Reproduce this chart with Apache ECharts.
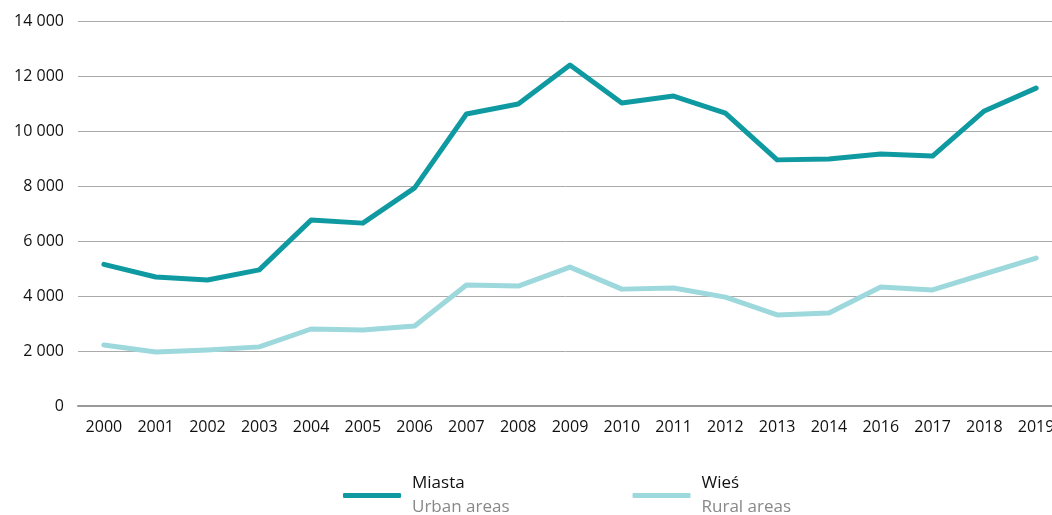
<!DOCTYPE html>
<html>
<head>
<meta charset="utf-8">
<script src="https://cdn.jsdelivr.net/npm/echarts@6/dist/echarts.min.js"></script>
<style>
  html, body { margin: 0; padding: 0; background: #fff; }
  #chart { width: 1052px; height: 515px; }
</style>
</head>
<body>
<div id="chart"></div>
<script>
const years = ['2000', '2001', '2002', '2003', '2004', '2005', '2006', '2007', '2008', '2009',
  '2010', '2011', '2012', '2013', '2014', '2016', '2017', '2018', '2019'];
const urban = [5150, 4690, 4580, 4950, 6760, 6650, 7930, 10620, 10980, 12400,
  11020, 11270, 10650, 8950, 8980, 9160, 9090, 10730, 11560];
const rural = [2220, 1960, 2040, 2150, 2800, 2760, 2910, 4400, 4360, 5050,
  4250, 4290, 3960, 3310, 3380, 4330, 4220, 4800, 5380];
const yTicks = [0, 2000, 4000, 6000, 8000, 10000, 12000, 14000];

const urbanColor = '#0f9aa2';
const ruralColor = '#9dd8dc';
const font = '"Open Sans", "Noto Sans", sans-serif';

const chart = echarts.init(document.getElementById('chart'));

const fmt = v => String(v).replace(/\B(?=(\d{3})+(?!\d))/g, ' ');

chart.setOption({
  animation: false,
  grid: { left: 78, right: -10, top: 21, bottom: 109, outerBoundsMode: 'none', containLabel: false },
  xAxis: {
    type: 'category',
    data: years,
    boundaryGap: true,
    axisLine: { show: true, lineStyle: { color: '#999', width: 2 } },
    axisTick: { show: false },
    axisLabel: { color: '#111', fontSize: 16, fontFamily: font, margin: 13 },
  },
  yAxis: {
    type: 'value',
    min: yTicks[0],
    max: yTicks[yTicks.length - 1],
    interval: 2000,
    axisLine: { show: false },
    axisTick: { show: false },
    splitLine: { lineStyle: { color: '#aaa', width: 1 } },
    axisLabel: { color: '#111', fontSize: 16, fontFamily: font, margin: 14, formatter: fmt },
  },
  legend: {
    left: 338,
    top: 470,
    itemWidth: 58,
    itemHeight: 5,
    itemGap: 123,
    icon: 'roundRect',
    data: ['Miasta', 'Wieś'],
    formatter: name => name === 'Miasta'
      ? '{a|Miasta}\n{b|Urban areas}'
      : '{a|Wieś}\n{b|Rural areas}',
    textStyle: {
      padding: [0, 0, 0, 6],
      rich: {
        a: { color: '#111', fontSize: 17, fontFamily: font, lineHeight: 24 },
        b: { color: '#888', fontSize: 17, fontFamily: font, lineHeight: 24 },
      },
    },
  },
  series: [
    {
      name: 'Miasta',
      type: 'line',
      data: urban,
      symbol: 'none',
      itemStyle: { color: urbanColor },
      lineStyle: { color: urbanColor, width: 5, cap: 'round', join: 'round' },
    },
    {
      name: 'Wieś',
      type: 'line',
      data: rural,
      symbol: 'none',
      itemStyle: { color: ruralColor },
      lineStyle: { color: ruralColor, width: 5, cap: 'round', join: 'round' },
    },
  ],
});
</script>
</body>
</html>
